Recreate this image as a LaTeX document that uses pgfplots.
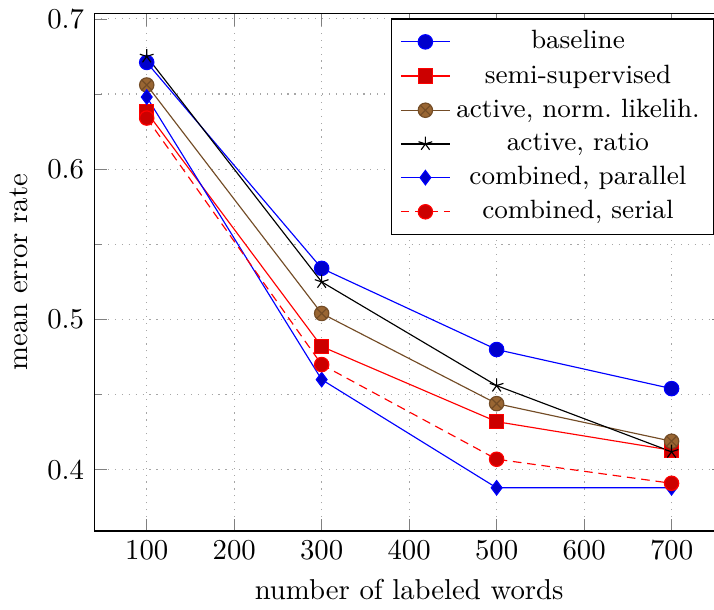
\documentclass[border=0pt]{standalone}
\usepackage{pgfplots}
\pgfplotsset{compat=1.18}

\begin{document}
\begin{tikzpicture}
\begin{axis}[
  name=ax,
  scale only axis,
  width=219pt,
  height=180pt,
  xlabel={number of labeled words},
  ylabel={mean error rate},
  xtick={100,200,...,700},
  ytick={0.4,0.5,0.6,0.7},
  minor y tick num=1,
  grid=both,
  grid style={dotted,gray!70},
  mark size=2.5pt,
  legend cell align=center,
  legend style={at={(0.985,0.99)},anchor=north east,font=\fontsize{9.2}{11}\selectfont},
]
\addplot coordinates {(100,0.671) (300,0.534) (500,0.480) (700,0.454)};
\addlegendentry{baseline}
\addplot coordinates {(100,0.638) (300,0.482) (500,0.432) (700,0.413)};
\addlegendentry{semi-supervised}
\addplot coordinates {(100,0.656) (300,0.504) (500,0.444) (700,0.419)};
\addlegendentry{active, norm.\ likelih.}
\addplot coordinates {(100,0.675) (300,0.525) (500,0.456) (700,0.412)};
\addlegendentry{active, ratio}
\addplot coordinates {(100,0.648) (300,0.460) (500,0.388) (700,0.388)};
\addlegendentry{combined, parallel}
\addplot coordinates {(100,0.634) (300,0.470) (500,0.407) (700,0.391)};
\addlegendentry{combined, serial}
\end{axis}
% the reference is cut off just left of the right axis line
\coordinate (bbsw) at (current bounding box.south west);
\coordinate (bbne) at (current bounding box.north east);
\pgfresetboundingbox
\path[use as bounding box] (bbsw) rectangle ([xshift=-3.5pt]bbne -| ax.east);
\end{tikzpicture}
\end{document}
